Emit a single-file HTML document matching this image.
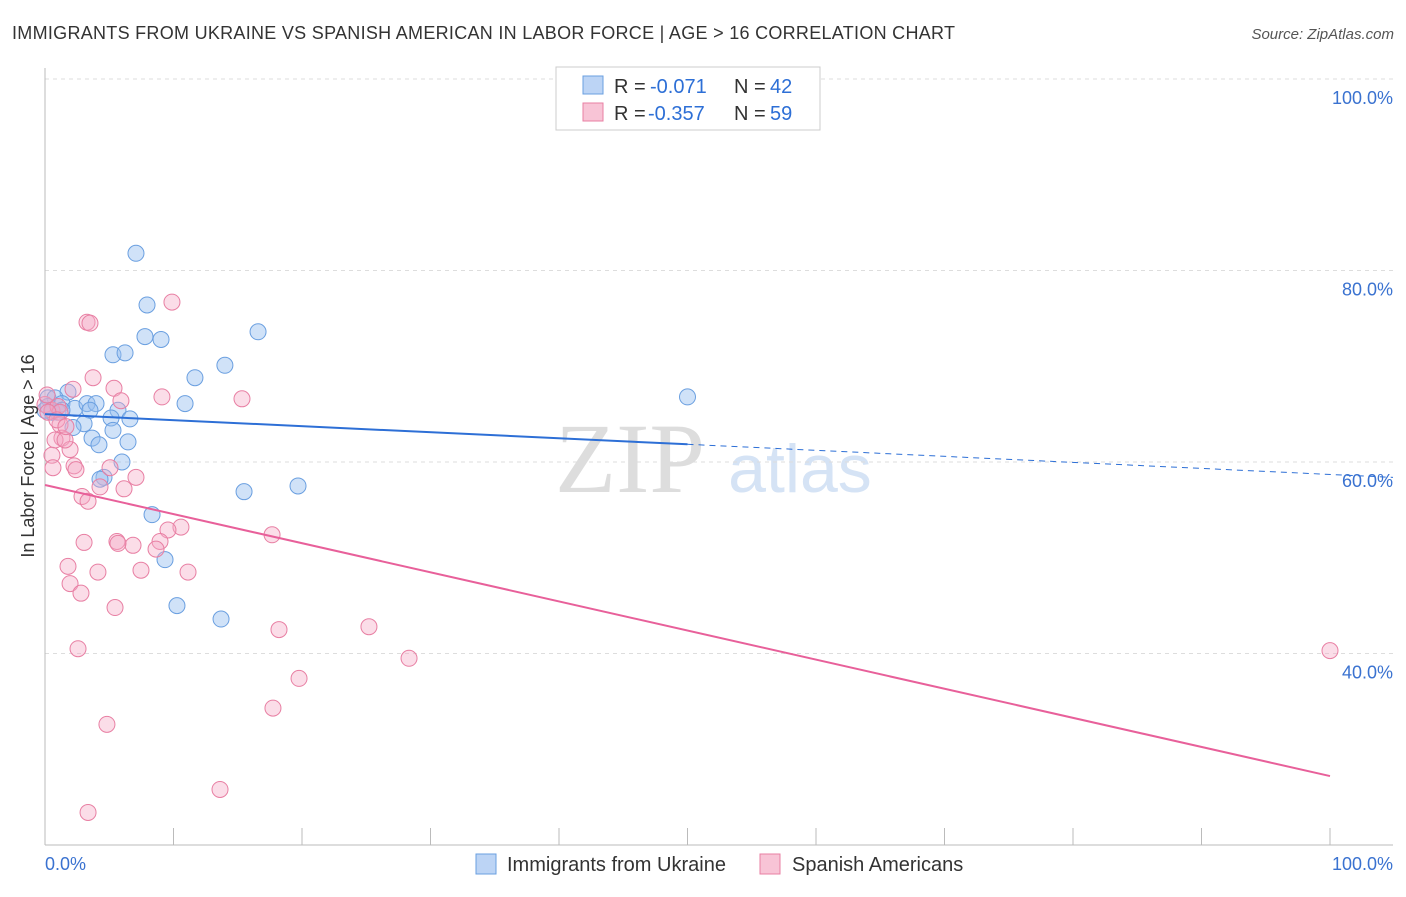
<!DOCTYPE html>
<html><head><meta charset="utf-8"><style>
body{margin:0;background:#fff;font-family:"Liberation Sans",sans-serif}
</style></head><body>
<svg id="chart" width="1406" height="892" xmlns="http://www.w3.org/2000/svg">
<text x="12" y="39" font-size="18" fill="#333" textLength="943">IMMIGRANTS FROM UKRAINE VS SPANISH AMERICAN IN LABOR FORCE | AGE &gt; 16 CORRELATION CHART</text>
<text x="1394" y="39" font-size="15" fill="#555" font-style="italic" text-anchor="end">Source: ZipAtlas.com</text>
<text x="630" y="492" font-size="100" fill="#ddd" font-family="Liberation Serif,serif" text-anchor="middle">ZIP</text>
<text x="800" y="492" font-size="68" fill="#d5e3f5" text-anchor="middle">atlas</text>
<g id="grid"></g><g id="marks"></g>
<text transform="translate(34,456) rotate(-90)" font-size="18" fill="#333" text-anchor="middle">In Labor Force | Age &gt; 16</text>
<rect x="556" y="67" width="264" height="63" fill="#fff" stroke="#ccc"/>
<rect x="583" y="76" width="20" height="18" fill="#bcd4f5" stroke="#6a9fe0"/>
<rect x="583" y="103" width="20" height="18" fill="#f8c4d6" stroke="#e87fa3"/>
<g font-size="20" fill="#333">
<text x="614" y="93">R =</text>
<text x="650" y="93" fill="#2d6fd6">-0.071</text>
<text x="734" y="93">N =</text>
<text x="770" y="93" fill="#2d6fd6">42</text>
<text x="614" y="120">R =</text>
<text x="648" y="120" fill="#2d6fd6">-0.357</text>
<text x="734" y="120">N =</text>
<text x="770" y="120" fill="#2d6fd6">59</text>
</g>
<rect x="476" y="854" width="20" height="20" fill="#bcd4f5" stroke="#6a9fe0"/>
<text x="507" y="871" font-size="20" fill="#333">Immigrants from Ukraine</text>
<rect x="760" y="854" width="20" height="20" fill="#f8c4d6" stroke="#e87fa3"/>
<text x="792" y="871" font-size="20" fill="#333">Spanish Americans</text>
</svg>
<script>
const yTicks=[100,80,60,40];
const yTickLabels=["100.0%","80.0%","60.0%","40.0%"];
const xTickLabels=["0.0%","100.0%"];
const blueX=[7.08,7.94,7.78,9.03,16.58,5.29,6.23,14.0,11.67,10.9,50.0,1.79,0.23,0.78,1.32,2.33,3.27,3.97,3.5,5.68,5.14,6.61,0.54,1.01,3.04,2.18,5.29,3.66,4.2,6.46,5.99,4.59,4.28,15.49,19.69,8.33,9.34,10.27,13.7,0,0.23,1.32];
const blueY=[81.8,76.4,73.1,72.8,73.6,71.2,71.4,70.1,68.8,66.1,66.8,67.3,66.7,66.7,66.1,65.6,66.1,66.1,65.4,65.4,64.6,64.5,65.2,65.2,64.0,63.6,63.3,62.5,61.8,62.1,60.0,58.4,58.2,56.9,57.5,54.5,49.8,45.0,43.6,65.4,65.8,65.4];
const pinkX=[0,0.54,1.01,2.18,3.74,3.27,3.5,9.88,5.37,5.91,9.1,15.33,1.17,1.17,1.32,1.95,0.78,0.54,0.62,2.26,2.41,5.06,7.08,4.28,6.15,2.88,3.35,10.58,9.57,8.95,8.64,6.85,5.6,5.68,17.67,3.04,1.79,4.12,7.47,11.13,1.95,2.8,5.45,18.21,25.21,28.33,2.57,19.77,17.74,4.82,13.62,3.35,100,0.23,1.56,0.93,1.63,0.16];
const pinkY=[66.0,65.4,65.8,67.6,68.8,74.6,74.5,76.7,67.7,66.4,66.8,66.6,65.2,63.9,62.5,61.3,62.3,60.7,59.4,59.6,59.2,59.4,58.4,57.4,57.2,56.4,55.9,53.2,52.9,51.7,50.9,51.3,51.7,51.5,52.4,51.6,49.1,48.5,48.7,48.5,47.3,46.3,44.8,42.5,42.8,39.5,40.5,37.4,34.3,32.6,25.8,23.4,40.3,65.2,62.3,64.4,63.7,67.0];
const blueTrend=[65.0,58.7];
const pinkTrend=[57.6,27.2];
const NS="http://www.w3.org/2000/svg";
const X=v=>45+v*12.85, Y=v=>79+(100-v)*9.575;
function mk(tag,attrs,parent){const e=document.createElementNS(NS,tag);for(const k in attrs)e.setAttribute(k,attrs[k]);parent.appendChild(e);return e;}
const grid=document.getElementById('grid'), marks=document.getElementById('marks');
yTicks.forEach((t,i)=>{
 const l=mk('line',{x1:45,x2:1393,y1:Y(t),y2:Y(t),stroke:'#ddd','stroke-dasharray':'4,4'},grid);
 
 
 const tx=mk('text',{x:1393,y:Y(t)+25,'font-size':18,fill:'#3a72d0','text-anchor':'end'},grid);
 tx.textContent=yTickLabels[i];
 
 
});
const ax=mk('line',{x1:45,x2:45,y1:68,y2:845,stroke:'#bbb'},grid);


const bx=mk('line',{x1:45,x2:1393,y1:845,y2:845,stroke:'#bbb'},grid);


for(let i=0;i<=10;i++){
 const t=mk('line',{x1:X(i*10),x2:X(i*10),y1:828,y2:845,stroke:'#bbb'},grid);
 
 
}
[[0,'start',45],[100,'end',1393]].forEach((d,i)=>{
 const t=mk('text',{x:d[2],y:870,'font-size':18,fill:'#3a72d0','text-anchor':d[1]},grid);
 t.textContent=xTickLabels[i];
 
 
});
blueX.forEach((v,i)=>{
 const c=mk('circle',{cx:X(v),cy:Y(blueY[i]),r:8,fill:'rgba(150,190,240,0.45)',stroke:'#6a9fe0','stroke-width':1},marks);
 
 
});
pinkX.forEach((v,i)=>{
 const c=mk('circle',{cx:X(v),cy:Y(pinkY[i]),r:8,fill:'rgba(245,170,198,0.4)',stroke:'#e87fa3','stroke-width':1},marks);
 
 
});
const bY=x=>blueTrend[0]+(blueTrend[1]-blueTrend[0])*x/100;
const l1=mk('line',{x1:X(0),y1:Y(bY(0)),x2:X(50),y2:Y(bY(50)),stroke:'#2d6fd6','stroke-width':2},marks);


const l2=mk('line',{x1:X(50),y1:Y(bY(50)),x2:1393,y2:Y(bY((1393-45)/12.85)),stroke:'#2d6fd6','stroke-width':1,'stroke-dasharray':'6,5'},marks);


const l3=mk('line',{x1:X(0),y1:Y(pinkTrend[0]),x2:X(100),y2:Y(pinkTrend[1]),stroke:'#e8609a','stroke-width':2},marks);


</script>
</body></html>
